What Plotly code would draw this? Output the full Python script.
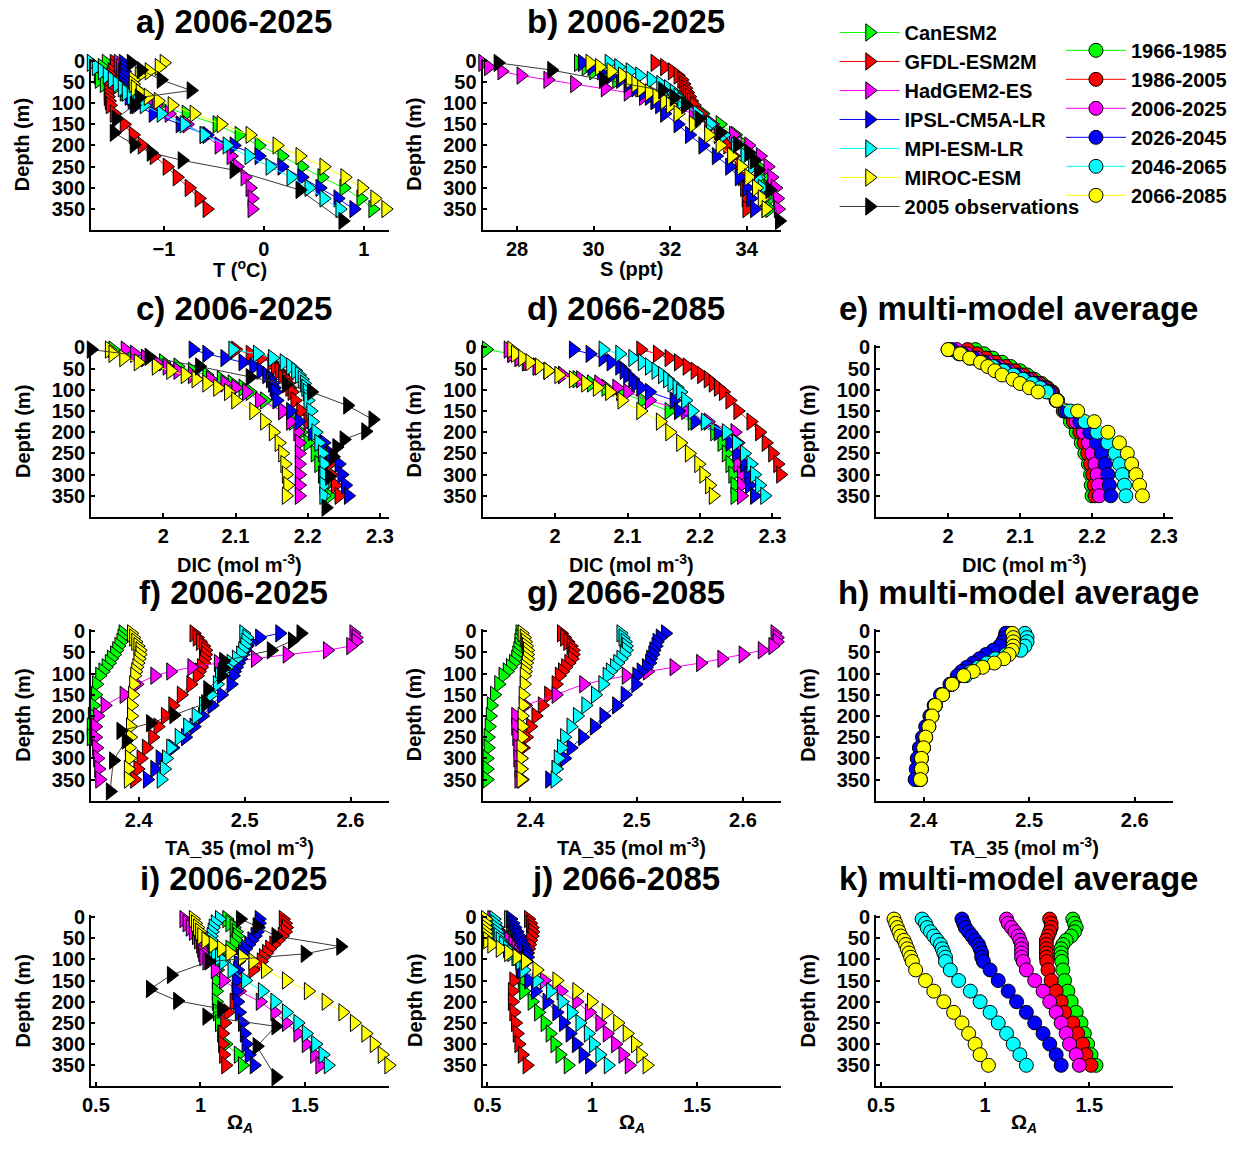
import plotly.graph_objects as go

# ---------------------------------------------------------------- data
DEPTH = [5, 15, 25, 35, 45, 55, 65, 75, 85, 95, 105, 125, 150, 175, 200, 225, 250, 275, 300, 325, 350]
OBS_DEPTH = [5, 22, 45, 70, 87, 105, 137, 170, 198, 217, 235, 258, 305, 378]

MODELS = ["CanESM2", "GFDL-ESM2M", "HadGEM2-ES", "IPSL-CM5A-LR", "MPI-ESM-LR", "MIROC-ESM"]
PERIODS = ["1966-1985", "1986-2005", "2006-2025", "2026-2045", "2046-2065", "2066-2085"]
COLORS = ["#00FF00", "#FF0000", "#FF00FF", "#0000FF", "#00FFFF", "#FFFF00"]
OBS_NAME = "2005 observations"

# temperature (degC), 2006-2025, one row per model
T_2006 = [
    [-1.58, -1.62, -1.65, -1.66, -1.65, -1.60, -1.50, -1.40, -1.30, -1.18, -1.05, -0.78, -0.47, -0.25, -0.05, 0.18, 0.38, 0.58, 0.80, 0.97, 1.09],
    [-1.50, -1.50, -1.52, -1.53, -1.54, -1.55, -1.55, -1.56, -1.56, -1.55, -1.54, -1.50, -1.40, -1.31, -1.22, -1.10, -0.97, -0.87, -0.75, -0.65, -0.57],
    [-1.46, -1.44, -1.42, -1.42, -1.41, -1.40, -1.38, -1.33, -1.25, -1.15, -1.08, -0.95, -0.77, -0.60, -0.45, -0.33, -0.27, -0.19, -0.14, -0.12, -0.12],
    [-1.41, -1.40, -1.40, -1.40, -1.41, -1.41, -1.40, -1.38, -1.35, -1.32, -1.28, -1.11, -0.84, -0.57, -0.30, -0.05, 0.18, 0.38, 0.56, 0.74, 0.90],
    [-1.73, -1.68, -1.62, -1.57, -1.52, -1.47, -1.42, -1.38, -1.33, -1.27, -1.20, -1.03, -0.80, -0.60, -0.37, -0.15, 0.06, 0.27, 0.45, 0.60, 0.76],
    [-1.00, -1.05, -1.15, -1.25, -1.31, -1.31, -1.29, -1.24, -1.16, -1.06, -0.92, -0.70, -0.43, -0.14, 0.13, 0.36, 0.60, 0.81, 0.98, 1.11, 1.22],
]
T_OBS = [-1.33, -1.23, -1.03, -0.73, -1.25, -1.30, -1.48, -1.50, -1.30, -1.13, -0.82, -0.30, 0.36, 0.79]

# salinity (ppt), 2006-2025
S_2006 = [
    [29.6, 29.8, 30.0, 30.3, 30.6, 30.9, 31.2, 31.5, 31.8, 32.1, 32.4, 32.85, 33.3, 33.7, 33.95, 34.15, 34.3, 34.45, 34.55, 34.6, 34.6],
    [31.6, 31.85, 32.05, 32.2, 32.3, 32.35, 32.4, 32.45, 32.5, 32.55, 32.62, 32.8, 33.0, 33.25, 33.5, 33.65, 33.8, 33.88, 33.94, 33.98, 34.0],
    [27.1, 27.25, 27.6, 28.1, 28.8, 29.5, 30.3, 30.9, 31.3, 31.6, 32.0, 32.6, 33.1, 33.65, 34.05, 34.35, 34.55, 34.65, 34.75, 34.8, 34.82],
    [29.7, 29.95, 30.2, 30.45, 30.7, 30.9, 31.1, 31.3, 31.45, 31.6, 31.72, 31.85, 32.2, 32.5, 32.85, 33.2, 33.55, 33.8, 34.0, 34.1, 34.2],
    [30.4, 30.65, 30.95, 31.2, 31.5, 31.75, 31.95, 32.1, 32.2, 32.3, 32.4, 32.7, 33.05, 33.4, 33.7, 33.95, 34.15, 34.3, 34.4, 34.45, 34.5],
    [29.9, 30.15, 30.45, 30.75, 30.95, 31.1, 31.25, 31.45, 31.65, 31.85, 32.0, 32.2, 32.6, 33.0, 33.3, 33.6, 33.85, 34.05, 34.25, 34.4, 34.5],
]
S_OBS = [27.5, 28.9, 30.25, 31.8, 32.1, 32.4, 32.75, 33.3, 33.75, 34.05, 34.2, 34.3, 34.6, 34.85]

# dissolved inorganic carbon (mol m-3)
DIC_2006 = [
    [1.93, 1.95, 1.975, 2.0, 2.02, 2.04, 2.06, 2.08, 2.095, 2.11, 2.12, 2.14, 2.165, 2.18, 2.19, 2.2, 2.21, 2.215, 2.22, 2.225, 2.23],
    [2.1, 2.12, 2.135, 2.15, 2.155, 2.16, 2.165, 2.17, 2.172, 2.175, 2.178, 2.182, 2.19, 2.2, 2.21, 2.22, 2.225, 2.23, 2.232, 2.238, 2.243],
    [1.947, 1.96, 1.975, 1.99, 2.005, 2.02, 2.04, 2.065, 2.085, 2.1, 2.115, 2.133, 2.165, 2.176, 2.186, 2.188, 2.188, 2.188, 2.188, 2.188, 2.188],
    [2.041, 2.06, 2.085, 2.11, 2.125, 2.135, 2.143, 2.148, 2.151, 2.153, 2.155, 2.157, 2.176, 2.188, 2.206, 2.222, 2.231, 2.243, 2.247, 2.252, 2.256],
    [2.096, 2.13, 2.151, 2.167, 2.176, 2.183, 2.188, 2.192, 2.195, 2.197, 2.199, 2.2, 2.204, 2.206, 2.211, 2.215, 2.22, 2.222, 2.222, 2.222, 2.222],
    [1.925, 1.93, 1.945, 1.965, 1.99, 2.01, 2.03, 2.045, 2.06, 2.075, 2.09, 2.1, 2.125, 2.14, 2.152, 2.16, 2.165, 2.168, 2.17, 2.172, 2.17],
]
DIC_OBS = [1.9, 1.98, 2.05, 2.12, 2.17, 2.205, 2.255, 2.29, 2.28, 2.25, 2.24, 2.235, 2.23, 2.225]

DIC_2066 = [
    [1.905, 1.94, 1.95, 1.96, 1.975, 1.99, 2.01, 2.03, 2.05, 2.07, 2.09, 2.12, 2.157, 2.189, 2.22, 2.23, 2.236, 2.241, 2.245, 2.248, 2.248],
    [2.118, 2.141, 2.157, 2.17, 2.182, 2.193, 2.202, 2.211, 2.218, 2.225, 2.232, 2.241, 2.252, 2.27, 2.282, 2.291, 2.3, 2.307, 2.311, 2.314, 2.316],
    [1.935, 1.94, 1.95, 1.962, 1.975, 1.99, 2.01, 2.035, 2.06, 2.085, 2.1, 2.13, 2.18, 2.211, 2.248, 2.252, 2.255, 2.252, 2.257, 2.257, 2.257],
    [2.025, 2.048, 2.066, 2.077, 2.089, 2.095, 2.1, 2.107, 2.111, 2.118, 2.13, 2.164, 2.17, 2.193, 2.225, 2.241, 2.25, 2.261, 2.266, 2.268, 2.275],
    [2.066, 2.089, 2.107, 2.12, 2.13, 2.139, 2.148, 2.155, 2.161, 2.168, 2.173, 2.18, 2.189, 2.207, 2.236, 2.25, 2.261, 2.27, 2.275, 2.282, 2.289],
    [1.94, 1.945, 1.955, 1.965, 1.978, 1.99, 2.005, 2.025, 2.042, 2.058, 2.075, 2.092, 2.118, 2.145, 2.158, 2.173, 2.185, 2.198, 2.205, 2.213, 2.218],
]

# multi-model averages, one row per 20-year period
DIC_AVG = [
    [2.038, 2.05, 2.062, 2.075, 2.087, 2.1, 2.11, 2.12, 2.13, 2.138, 2.145, 2.15, 2.16, 2.17, 2.178, 2.185, 2.19, 2.195, 2.198, 2.199, 2.2],
    [2.027, 2.04, 2.053, 2.066, 2.08, 2.093, 2.105, 2.116, 2.127, 2.136, 2.144, 2.151, 2.162, 2.174, 2.183, 2.189, 2.194, 2.198, 2.201, 2.203, 2.204],
    [2.012, 2.026, 2.04, 2.055, 2.07, 2.084, 2.098, 2.111, 2.123, 2.133, 2.142, 2.151, 2.163, 2.178, 2.188, 2.195, 2.2, 2.204, 2.207, 2.209, 2.21],
    [2.005, 2.02, 2.035, 2.05, 2.065, 2.08, 2.094, 2.107, 2.12, 2.13, 2.14, 2.152, 2.165, 2.183, 2.197, 2.206, 2.213, 2.218, 2.222, 2.224, 2.226],
    [2.0, 2.015, 2.03, 2.046, 2.062, 2.077, 2.091, 2.104, 2.117, 2.128, 2.137, 2.152, 2.17, 2.19, 2.207, 2.222, 2.232, 2.238, 2.242, 2.245, 2.247],
    [2.0, 2.017, 2.03, 2.045, 2.055, 2.065, 2.075, 2.09, 2.1, 2.113, 2.125, 2.151, 2.18, 2.203, 2.222, 2.238, 2.249, 2.255, 2.261, 2.266, 2.27],
]

# total alkalinity normalised to S=35 (mol m-3)
TA_2006 = [
    [2.385, 2.384, 2.383, 2.381, 2.379, 2.377, 2.374, 2.372, 2.369, 2.366, 2.363, 2.36, 2.359, 2.357, 2.356, 2.355, 2.355, 2.354, 2.353, 2.352, 2.351],
    [2.452, 2.455, 2.458, 2.461, 2.463, 2.463, 2.462, 2.461, 2.459, 2.457, 2.455, 2.449, 2.44, 2.432, 2.425, 2.418, 2.413, 2.407, 2.402, 2.399, 2.396],
    [2.603, 2.605, 2.605, 2.6, 2.578, 2.54, 2.51, 2.475, 2.45, 2.43, 2.415, 2.398, 2.386, 2.368, 2.361, 2.359, 2.359, 2.36, 2.361, 2.362, 2.363],
    [2.533, 2.514, 2.505, 2.502, 2.5, 2.498, 2.496, 2.494, 2.492, 2.49, 2.489, 2.487, 2.478, 2.469, 2.46, 2.452, 2.444, 2.432, 2.42, 2.415, 2.408],
    [2.499, 2.502, 2.501, 2.5, 2.498, 2.496, 2.492, 2.487, 2.483, 2.479, 2.476, 2.474, 2.468, 2.461, 2.454, 2.446, 2.438, 2.43, 2.426, 2.424, 2.421],
    [2.393, 2.395, 2.397, 2.399, 2.401, 2.401, 2.4, 2.399, 2.398, 2.397, 2.396, 2.395, 2.394, 2.393, 2.393, 2.392, 2.392, 2.391, 2.391, 2.39, 2.39],
]
TA_OBS = [2.553, 2.545, 2.525, 2.48, 2.48, 2.478, 2.465, 2.463, 2.433, 2.411, 2.383, 2.388, 2.376, 2.373]

TA_2066 = [
    [2.39, 2.39, 2.389, 2.389, 2.388, 2.387, 2.386, 2.384, 2.381, 2.378, 2.374, 2.37, 2.366, 2.363, 2.362, 2.361, 2.36, 2.36, 2.359, 2.359, 2.359],
    [2.429, 2.432, 2.435, 2.438, 2.44, 2.44, 2.439, 2.436, 2.433, 2.43, 2.427, 2.424, 2.417, 2.411, 2.405, 2.4, 2.396, 2.393, 2.391, 2.391, 2.392],
    [2.63, 2.632, 2.632, 2.628, 2.618, 2.6, 2.58, 2.56, 2.535, 2.51, 2.49, 2.45, 2.424, 2.395, 2.386, 2.386, 2.387, 2.388, 2.388, 2.389, 2.389],
    [2.527, 2.522, 2.519, 2.518, 2.516, 2.515, 2.513, 2.512, 2.509, 2.504, 2.5, 2.499, 2.489, 2.481, 2.469, 2.46, 2.449, 2.438, 2.432, 2.424, 2.418],
    [2.485, 2.487, 2.489, 2.49, 2.49, 2.488, 2.485, 2.482, 2.479, 2.475, 2.472, 2.468, 2.461, 2.452, 2.444, 2.438, 2.432, 2.429, 2.426, 2.424, 2.423],
    [2.392, 2.394, 2.395, 2.396, 2.397, 2.397, 2.397, 2.396, 2.395, 2.395, 2.394, 2.394, 2.393, 2.393, 2.392, 2.392, 2.392, 2.391, 2.391, 2.391, 2.391],
]

TA_AVG = [
    [2.478, 2.478, 2.477, 2.475, 2.47, 2.463, 2.456, 2.45, 2.444, 2.438, 2.434, 2.426, 2.417, 2.411, 2.407, 2.403, 2.4, 2.398, 2.396, 2.395, 2.394],
    [2.479, 2.479, 2.478, 2.476, 2.471, 2.465, 2.458, 2.451, 2.445, 2.439, 2.434, 2.426, 2.417, 2.411, 2.407, 2.403, 2.4, 2.398, 2.396, 2.395, 2.394],
    [2.48, 2.48, 2.479, 2.477, 2.472, 2.465, 2.458, 2.451, 2.445, 2.439, 2.434, 2.426, 2.417, 2.411, 2.407, 2.403, 2.4, 2.398, 2.396, 2.395, 2.394],
    [2.478, 2.477, 2.475, 2.472, 2.466, 2.459, 2.453, 2.447, 2.441, 2.436, 2.432, 2.425, 2.416, 2.41, 2.406, 2.402, 2.399, 2.396, 2.394, 2.393, 2.392],
    [2.496, 2.498, 2.498, 2.496, 2.492, 2.478, 2.468, 2.46, 2.452, 2.445, 2.44, 2.427, 2.418, 2.411, 2.408, 2.405, 2.402, 2.4, 2.398, 2.398, 2.397],
    [2.484, 2.485, 2.485, 2.485, 2.484, 2.481, 2.476, 2.467, 2.456, 2.447, 2.438, 2.427, 2.418, 2.411, 2.408, 2.405, 2.402, 2.4, 2.398, 2.398, 2.397],
]

# aragonite saturation state
OM_2006 = [
    [1.125, 1.14, 1.16, 1.17, 1.175, 1.17, 1.16, 1.14, 1.12, 1.1, 1.09, 1.08, 1.075, 1.075, 1.075, 1.08, 1.09, 1.1, 1.12, 1.18, 1.2],
    [1.395, 1.405, 1.41, 1.405, 1.39, 1.37, 1.35, 1.33, 1.315, 1.3, 1.29, 1.25, 1.2, 1.17, 1.16, 1.13, 1.115, 1.105, 1.105, 1.11, 1.12],
    [0.92, 0.935, 0.95, 0.965, 0.98, 0.99, 1.0, 1.005, 1.01, 1.015, 1.03, 1.07, 1.11, 1.185, 1.285, 1.355, 1.41, 1.465, 1.505, 1.545, 1.57],
    [1.28, 1.28, 1.275, 1.27, 1.26, 1.245, 1.23, 1.215, 1.2, 1.19, 1.18, 1.177, 1.17, 1.17, 1.177, 1.185, 1.2, 1.209, 1.217, 1.232, 1.256],
    [1.09, 1.07, 1.06, 1.055, 1.05, 1.05, 1.055, 1.06, 1.07, 1.09, 1.11, 1.15, 1.215, 1.295, 1.355, 1.41, 1.465, 1.505, 1.55, 1.585, 1.61],
    [0.965, 0.975, 0.985, 0.995, 1.005, 1.025, 1.06, 1.1, 1.14, 1.2, 1.25, 1.31, 1.41, 1.515, 1.6, 1.68, 1.735, 1.79, 1.83, 1.868, 1.9],
]
OM_OBS = [1.19, 1.27, 1.36, 1.67, 1.5, 1.04, 0.86, 0.76, 0.89, 1.1, 1.03, 1.36, 1.27, 1.36]

OM_2066 = [
    [0.6, 0.61, 0.615, 0.62, 0.625, 0.63, 0.635, 0.64, 0.645, 0.65, 0.655, 0.66, 0.665, 0.672, 0.712, 0.743, 0.774, 0.798, 0.821, 0.845, 0.884],
    [0.695, 0.705, 0.712, 0.715, 0.712, 0.705, 0.7, 0.695, 0.69, 0.685, 0.68, 0.655, 0.625, 0.618, 0.618, 0.625, 0.633, 0.641, 0.649, 0.665, 0.688],
    [0.52, 0.53, 0.545, 0.56, 0.58, 0.6, 0.62, 0.635, 0.645, 0.65, 0.655, 0.66, 0.77, 0.85, 0.925, 0.985, 1.035, 1.07, 1.11, 1.145, 1.175],
    [0.61, 0.62, 0.63, 0.64, 0.65, 0.66, 0.67, 0.68, 0.685, 0.69, 0.685, 0.66, 0.696, 0.728, 0.783, 0.83, 0.862, 0.893, 0.923, 0.955, 0.986],
    [0.53, 0.535, 0.54, 0.545, 0.55, 0.56, 0.575, 0.595, 0.615, 0.635, 0.655, 0.673, 0.735, 0.8, 0.855, 0.9, 0.94, 0.98, 1.005, 1.035, 1.075],
    [0.49, 0.49, 0.49, 0.492, 0.495, 0.5, 0.52, 0.56, 0.6, 0.64, 0.68, 0.735, 0.83, 0.925, 0.995, 1.065, 1.12, 1.165, 1.205, 1.23, 1.26],
]

OM_AVG = [
    [1.421, 1.429, 1.437, 1.429, 1.413, 1.389, 1.373, 1.365, 1.365, 1.365, 1.368, 1.373, 1.381, 1.397, 1.413, 1.437, 1.46, 1.476, 1.492, 1.508, 1.532],
    [1.31, 1.317, 1.317, 1.31, 1.302, 1.294, 1.294, 1.294, 1.294, 1.294, 1.296, 1.302, 1.317, 1.341, 1.365, 1.381, 1.421, 1.444, 1.468, 1.484, 1.508],
    [1.103, 1.111, 1.127, 1.143, 1.159, 1.167, 1.175, 1.175, 1.175, 1.175, 1.183, 1.198, 1.238, 1.278, 1.31, 1.341, 1.365, 1.389, 1.405, 1.437, 1.452],
    [0.889, 0.897, 0.905, 0.921, 0.937, 0.952, 0.968, 0.976, 0.984, 0.984, 0.992, 1.024, 1.063, 1.111, 1.151, 1.198, 1.238, 1.278, 1.31, 1.341, 1.365],
    [0.698, 0.714, 0.722, 0.738, 0.754, 0.77, 0.786, 0.794, 0.802, 0.81, 0.81, 0.833, 0.873, 0.929, 0.976, 1.024, 1.063, 1.103, 1.135, 1.167, 1.198],
    [0.563, 0.571, 0.579, 0.587, 0.595, 0.611, 0.619, 0.627, 0.635, 0.643, 0.651, 0.667, 0.714, 0.754, 0.802, 0.849, 0.889, 0.921, 0.952, 0.976, 1.016],
]

# ---------------------------------------------------------------- layout
W, H = 1237, 1149
FONT = "Liberation Sans, Arial, Helvetica, sans-serif"
COL_LEFT = [83, 479, 877]
COL_RIGHT = [384, 781, 1177]
ROW_TOP = [50, 339, 625, 913]
ROW_BOTTOM = [223, 512, 798, 1086]
XTITLE_Y = [262, 559, 844, 1123]
TRI_SIZE = 15
DOT_SIZE = 14

VARS = {
    "T": dict(range=[-1.73, 1.25], ticks=[-1, 0, 1], title="T (<sup>o</sup>C)"),
    "S": dict(range=[27.1, 34.9], ticks=[28, 30, 32, 34], title="S (ppt)"),
    "DIC": dict(range=[1.9, 2.312], ticks=[2, 2.1, 2.2, 2.3], title="DIC (mol m<sup>-3</sup>)"),
    "TA": dict(range=[2.355, 2.636], ticks=[2.4, 2.5, 2.6], title="TA_35 (mol m<sup>-3</sup>)"),
    "OM": dict(range=[0.477, 1.9], ticks=[0.5, 1, 1.5], title="\u03a9<sub><i>A</i></sub>"),
}

PANELS = [
    ("a) 2006-2025", 0, 0, "T", T_2006, "model", T_OBS),
    ("b) 2006-2025", 0, 1, "S", S_2006, "model", S_OBS),
    ("c) 2006-2025", 1, 0, "DIC", DIC_2006, "model", DIC_OBS),
    ("d) 2066-2085", 1, 1, "DIC", DIC_2066, "model", None),
    ("e) multi-model average", 1, 2, "DIC", DIC_AVG, "period", None),
    ("f) 2006-2025", 2, 0, "TA", TA_2006, "model", TA_OBS),
    ("g) 2066-2085", 2, 1, "TA", TA_2066, "model", None),
    ("h) multi-model average", 2, 2, "TA", TA_AVG, "period", None),
    ("i) 2006-2025", 3, 0, "OM", OM_2006, "model", OM_OBS),
    ("j) 2066-2085", 3, 1, "OM", OM_2066, "model", None),
    ("k) multi-model average", 3, 2, "OM", OM_AVG, "period", None),
]


def px_x(v):
    return v / W


def px_y(v):
    return 1 - v / H


fig = go.Figure()
annotations = []
layout_axes = {}

for idx, (title, r, c, var, series, kind, obs) in enumerate(PANELS):
    n = idx + 1
    sfx = "" if n == 1 else str(n)
    xref, yref = "x" + sfx, "y" + sfx
    spec = VARS[var]

    first_model_panel = idx == 0
    first_period_panel = kind == "period" and title.startswith("e)")

    for k, vals in enumerate(series):
        if kind == "model":
            name, symbol, size, show, lg = MODELS[k], "triangle-right", TRI_SIZE, first_model_panel, "legend"
        else:
            name, symbol, size, show, lg = PERIODS[k], "circle", DOT_SIZE, first_period_panel, "legend2"
        fig.add_trace(go.Scatter(
            x=vals, y=DEPTH, xaxis=xref, yaxis=yref, name=name,
            mode="lines+markers", legend=lg, showlegend=show,
            line=dict(color=COLORS[k], width=1),
            marker=dict(symbol=symbol, size=size, color=COLORS[k],
                        line=dict(color="#000000", width=1)),
            cliponaxis=False,
        ))
    if obs is not None:
        fig.add_trace(go.Scatter(
            x=obs, y=OBS_DEPTH, xaxis=xref, yaxis=yref, name=OBS_NAME,
            mode="lines+markers", legend="legend", showlegend=first_model_panel,
            line=dict(color="#3a3a3a", width=1),
            marker=dict(symbol="triangle-right", size=TRI_SIZE, color="#000000",
                        line=dict(color="#000000", width=1)),
            cliponaxis=False,
        ))

    x0, x1 = COL_LEFT[c], COL_RIGHT[c]
    y0, y1 = ROW_TOP[r], ROW_BOTTOM[r]
    axis_common = dict(
        showline=True, linecolor="#000000", linewidth=2, showgrid=False,
        zeroline=False, ticks="inside", ticklen=4, tickwidth=1.5,
        tickcolor="#000000", mirror=False,
        tickfont=dict(family=FONT, size=20, color="#000000", weight="bold"),
    )
    layout_axes["xaxis" + sfx] = dict(
        axis_common, domain=[px_x(x0), px_x(x1)], anchor=yref,
        range=spec["range"], tickvals=spec["ticks"],
    )
    layout_axes["yaxis" + sfx] = dict(
        axis_common, domain=[px_y(y1), px_y(y0)], anchor=xref,
        range=[400, -5], tickvals=[0, 50, 100, 150, 200, 250, 300, 350],
    )

    cx = (x0 + x1) / 2
    annotations.append(dict(
        text="<b>%s</b>" % title, x=px_x(cx - 6), y=px_y(y0 - 37),
        xref="paper", yref="paper", xanchor="center", yanchor="middle",
        showarrow=False, font=dict(family=FONT, size=33, color="#000000"),
    ))
    annotations.append(dict(
        text="<b>%s</b>" % spec["title"], x=px_x(cx), y=px_y(XTITLE_Y[r]),
        xref="paper", yref="paper", xanchor="center", yanchor="middle",
        showarrow=False, font=dict(family=FONT, size=20, color="#000000"),
    ))
    annotations.append(dict(
        text="<b>Depth (m)</b>", x=px_x(x0 - 69), y=px_y((y0 + y1) / 2),
        xref="paper", yref="paper", xanchor="center", yanchor="middle",
        textangle=-90, showarrow=False,
        font=dict(family=FONT, size=20, color="#000000"),
    ))

legend_font = dict(family=FONT, size=20, color="#000000", weight="bold")
fig.update_layout(
    width=W, height=H, autosize=False,
    margin=dict(l=0, r=0, t=0, b=0),
    paper_bgcolor="#FFFFFF", plot_bgcolor="#FFFFFF",
    annotations=annotations,
    legend=dict(x=px_x(835), y=px_y(4), xanchor="left", yanchor="top",
                font=legend_font, bgcolor="rgba(0,0,0,0)", itemwidth=60,
                tracegroupgap=0, traceorder="normal"),
    legend2=dict(x=px_x(1064), y=px_y(22), xanchor="left", yanchor="top",
                 font=legend_font, bgcolor="rgba(0,0,0,0)", itemwidth=60,
                 tracegroupgap=0, traceorder="normal"),
    **layout_axes,
)

fig.write_html("out.html")
